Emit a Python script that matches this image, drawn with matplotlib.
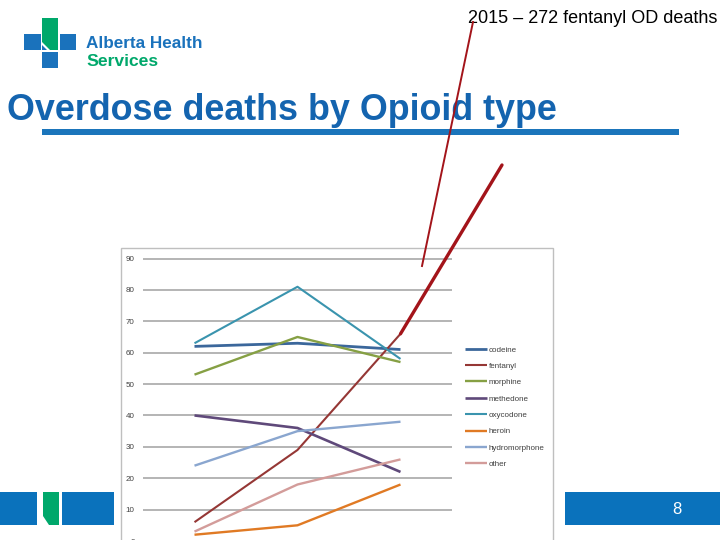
import matplotlib
matplotlib.use("Agg")
import matplotlib.pyplot as plt
from matplotlib.patches import Rectangle, Polygon
from matplotlib.lines import Line2D

# ---- data ----
years = ["2013", "2014", "2015"]
series_names = ["codeine", "fentanyl", "morphine", "methedone", "oxycodone",
                "heroin", "hydromorphone", "other"]
codeine = [62, 63, 61]
fentanyl = [6, 29, 66]
morphine = [53, 65, 57]
methadone = [40, 36, 22]
oxycodone = [63, 81, 58]
heroin = [2, 5, 18]
hydromorphone = [24, 35, 38]
other = [3, 18, 26]
y_ticks = [0, 10, 20, 30, 40, 50, 60, 70, 80, 90]

series_values = [codeine, fentanyl, morphine, methadone, oxycodone,
                 heroin, hydromorphone, other]
colors = ["#3B679B", "#953735", "#86A044", "#5F497A", "#3A94AE",
          "#E07A24", "#8AA6CF", "#D39C9A"]
widths = [2.0, 1.5, 1.7, 1.9, 1.5, 1.7, 1.7, 1.7]

W, H = 720, 540
fig = plt.figure(figsize=(7.2, 5.4), dpi=100)
fx = lambda x: x / W
fy = lambda y: 1 - y / H
TF = fig.transFigure

# chart box
fig.add_artist(Rectangle((fx(121), fy(560)), fx(553) - fx(121), fy(248) - fy(560),
                         transform=TF, facecolor="white", edgecolor="#BFBFBF",
                         lw=1.0, zorder=-1))

# axes
ax = fig.add_axes([fx(143), fy(541), fx(452) - fx(143), fy(258.5) - fy(541)])
ax.patch.set_alpha(0)
x = list(range(len(years)))
for name, vals, c, lw in zip(series_names, series_values, colors, widths):
    ax.plot(x, vals, color=c, lw=lw, label=name, solid_capstyle="butt")
ax.set_xlim(-0.5, 2.5)
ax.set_ylim(0, 90)
ax.set_xticks(x)
ax.set_xticklabels([])  # year labels fall below the visible slide
ax.set_yticks(y_ticks)
ax.set_yticklabels([str(v) for v in y_ticks], fontsize=5.8, color="#404040",
                   family="Liberation Sans")
ax.tick_params(length=0, pad=6)
ax.grid(axis="y", color="#B4B4B4", lw=1.4)
ax.set_axisbelow(True)
for s in ax.spines.values():
    s.set_visible(False)

leg = ax.legend(loc="upper left", bbox_to_anchor=(fx(465), fy(346)),
                bbox_transform=TF, frameon=False,
                handlelength=2.75, handletextpad=0.15, labelspacing=1.08,
                borderpad=0, borderaxespad=0,
                prop={"family": "Liberation Sans", "size": 5.8})
for t in leg.get_texts():
    t.set_color("#404040")

# annotation lines
ax.annotate("", xy=(2, fentanyl[2]), xycoords="data",
            xytext=(fx(502), fy(165)), textcoords="figure fraction",
            arrowprops=dict(arrowstyle="-", color="#A3141A", lw=2.4,
                            shrinkA=0, shrinkB=0), annotation_clip=False)
fig.add_artist(Line2D([fx(473), fx(422)], [fy(22), fy(266)], transform=TF,
                      color="#A3141A", lw=1.4, zorder=5))

# header
fig.text(fx(468), fy(23), "2015 \u2013 272 fentanyl OD deaths", fontsize=13,
         family="Liberation Sans", color="black", ha="left", va="baseline")
fig.text(fx(7), fy(120), "Overdose deaths by Opioid type", fontsize=25.8,
         family="Liberation Sans", weight="bold", color="#1464AF",
         ha="left", va="baseline")
fig.add_artist(Rectangle((fx(42), fy(134.5)), fx(679) - fx(42), fy(129.5) - fy(134.5),
                         transform=TF, facecolor="#1B75BB", edgecolor="none"))

# logo
blue = "#1A72BC"
green = "#00A86B"
for (x0, y0, x1, y1) in [(24, 34, 41, 50), (60, 34, 76, 50), (42, 52, 58, 68)]:
    fig.add_artist(Rectangle((fx(x0), fy(y1)), fx(x1) - fx(x0), fy(y0) - fy(y1),
                             transform=TF, facecolor=blue, edgecolor="none"))
fig.add_artist(Polygon([(fx(42), fy(18)), (fx(58), fy(18)), (fx(58), fy(50)),
                        (fx(50), fy(50)), (fx(42), fy(42))], closed=True,
                       transform=TF, facecolor=green, edgecolor="none"))
fig.add_artist(Polygon([(fx(42), fy(45)), (fx(42), fy(50)), (fx(47), fy(50))],
                       closed=True, transform=TF, facecolor=blue, edgecolor="none"))
fig.text(fx(86), fy(48), "Alberta Health", fontsize=12.3,
         family="Liberation Sans", weight="bold",
         color=blue, ha="left", va="baseline")
fig.text(fx(86), fy(66.5), "Services", fontsize=12.6,
         family="Liberation Sans", weight="bold",
         color=green, ha="left", va="baseline")

# footer
fblue = "#0A72BC"
fig.add_artist(Rectangle((fx(0), fy(525)), fx(37), fy(492) - fy(525),
                         transform=TF, facecolor=fblue, edgecolor="none"))
fig.add_artist(Polygon([(fx(43), fy(492)), (fx(59), fy(492)), (fx(59), fy(525)),
                        (fx(49), fy(525)), (fx(43), fy(516))], closed=True,
                       transform=TF, facecolor=green, edgecolor="none"))
fig.add_artist(Rectangle((fx(62), fy(525)), fx(114) - fx(62), fy(492) - fy(525),
                         transform=TF, facecolor=fblue, edgecolor="none"))
fig.add_artist(Rectangle((fx(565), fy(525)), fx(720) - fx(565), fy(492) - fy(525),
                         transform=TF, facecolor=fblue, edgecolor="none"))
fig.text(fx(677), fy(509), "8", fontsize=12, family="Liberation Sans",
         color="white", ha="center", va="center")

fig.savefig("out.png", dpi=100)
